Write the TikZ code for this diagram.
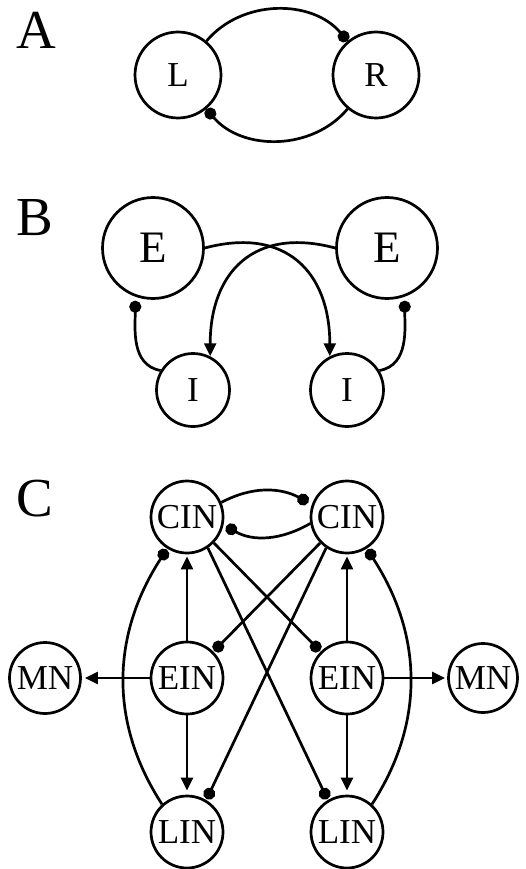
\documentclass[tikz,border=0pt]{standalone}
\usepackage{fontspec}
\setmainfont{Liberation Serif}
\usetikzlibrary{arrows.meta}

\begin{document}
\begin{tikzpicture}[x=1pt,y=-1pt,line width=2.7pt,
  cell/.style={draw,circle,inner sep=0pt,minimum size=72pt,font=\fontsize{35}{40}\selectfont},
  panel/.style={anchor=base west,inner sep=0pt,font=\fontsize{55}{60}\selectfont},
  exc/.style={-{Triangle[length=13pt,width=12pt]}},
  inh/.style={-{Circle[length=12pt]}}]

  \useasboundingbox (0,0) rectangle (526,869);

  % A
  \node[panel] (labA) at (15,49) {A};
  \node[cell,minimum size=86pt] (L) at (178,75) {L};
  \node[cell,minimum size=86pt] (R) at (376,75) {R};

  \draw[inh] (L.50) to[out=50,in=130] (R.130);
  \draw[inh] (R.230) to[out=230,in=-50] (L.-50);

  % B
  \node[panel] (labB) at (15,235) {B};
  \node[cell,minimum size=101pt,font=\fontsize{45}{50}\selectfont] (EL) at (153,248) {E};
  \node[cell,minimum size=101pt,font=\fontsize{45}{50}\selectfont] (ER) at (387,248) {E};
  \node[cell,minimum size=73pt] (IL) at (193,390) {I};
  \node[cell,minimum size=73pt] (IR) at (347,390) {I};

  \draw[exc] (EL.0) to[out=15,in=90,looseness=1.3] (IR.117);
  \draw[exc] (ER.180) to[out=165,in=90,looseness=1.3] (IL.63);
  \draw[inh,shorten >=4pt] (IL.149) to[out=170,in=-90] (EL.250);
  \draw[inh,shorten >=4pt] (IR.31) to[out=10,in=-90] (ER.290);

  % C
  \node[panel] (labC) at (15,516) {C};
  \node[cell] (CINL) at (187,517) {CIN};
  \node[cell] (CINR) at (347,517) {CIN};
  \node[cell] (EINL) at (187,678) {EIN};
  \node[cell] (EINR) at (347,678) {EIN};
  \node[cell,minimum size=71pt] (MNL) at (45,678) {MN};
  \node[cell,minimum size=69pt] (MNR) at (483,678) {MN};
  \node[cell] (LINL) at (187,832) {LIN};
  \node[cell] (LINR) at (347,832) {LIN};

  \draw[inh,shorten >=4pt] (CINL.23) to[out=28,in=152] (CINR.160);
  \draw[inh,shorten >=3pt] (CINR.190) to[out=210,in=-30] (CINL.-12);

  \draw[exc,shorten >=2pt] (EINL) -- (CINL);
  \draw[exc,shorten >=4pt] (EINL) -- (LINL);
  \draw[exc,shorten >=3pt] (EINL) -- (MNL);
  \draw[exc,shorten >=2pt] (EINR) -- (CINR);
  \draw[exc,shorten >=4pt] (EINR) -- (LINR);
  \draw[exc,shorten >=2pt] (EINR) -- (MNR);

  \draw[inh,shorten >=1pt] (CINR.224) -- (EINL.45);
  \draw[inh,shorten >=1pt] (CINL.-44) -- (EINR.135);
  \draw[inh,shorten >=1pt] (CINR.236) -- (LINL.59);
  \draw[inh,shorten >=1pt] (CINL.-56) -- (LINR.121);

  \draw[inh,shorten >=1pt] (LINL.132) to[out=123,in=237] (CINL.238);
  \draw[inh,shorten >=1pt] (LINR.48) to[out=57,in=303] (CINR.302);

\end{tikzpicture}
\end{document}
